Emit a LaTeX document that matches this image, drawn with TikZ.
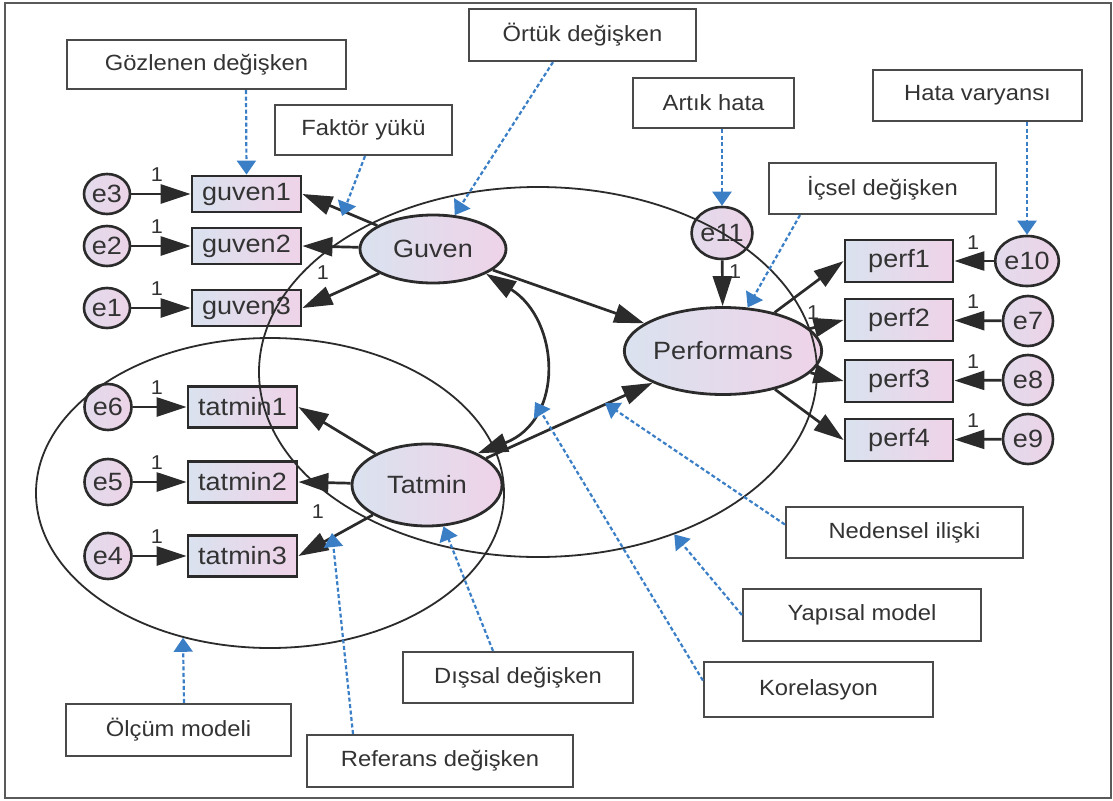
\documentclass[tikz,border=0pt]{standalone}
\usepackage{fontspec}
\setmainfont{Liberation Sans}[FakeStretch=1.08]
\usetikzlibrary{arrows.meta,shapes.geometric,calc}

\definecolor{ink}{HTML}{2B2B2B}
\definecolor{txt}{HTML}{333333}
\definecolor{boxline}{HTML}{4A4A4A}
\definecolor{frameline}{HTML}{5A5A5A}
\definecolor{callblue}{HTML}{3A7EC6}
\definecolor{fillL}{HTML}{DAE2EF}
\definecolor{fillR}{HTML}{EFD3E8}
\definecolor{errL}{HTML}{E2DBEC}
\definecolor{errR}{HTML}{EDD3E7}

\begin{document}
\begin{tikzpicture}[x=1pt,y=-1pt,
  lbl/.style={font=\fontsize{25}{28}\selectfont, text=txt},
  obs/.style={rectangle, draw=ink, line width=2.8pt, left color=fillL, right color=fillR,
    minimum width=109pt, inner sep=0pt, lbl},
  lat/.style={ellipse, draw=ink, line width=2.8pt, left color=fillL, right color=fillR,
    inner sep=0pt, lbl},
  err/.style={ellipse, draw=ink, line width=2.6pt, left color=errL, right color=errR,
    inner sep=0pt, lbl},
  bigell/.style={ellipse, draw=ink, line width=1.8pt, inner sep=0pt},
  one/.style={font=\fontsize{20}{22}\selectfont, text=txt, inner sep=0pt},
  reg/.style={draw=ink, line width=2.7pt, -{Triangle[length=30pt,width=19pt]}},
  cov/.style={draw=ink, line width=2.7pt, {Triangle[length=30pt,width=19pt]}-{Triangle[length=30pt,width=19pt]}},
  callout/.style={rectangle, draw=boxline, line width=2.2pt, fill=white, inner sep=0pt,
    font=\fontsize{22}{26}\selectfont, text=txt},
  callarrow/.style={draw=callblue, line width=2.2pt, dash pattern=on 4pt off 2.5pt,
    -{Triangle[length=14pt,width=19pt]}},
]
\useasboundingbox (0,0) rectangle (1113,800);
\fill[white] (0,0) rectangle (1113,800);
\draw[frameline, line width=2.5pt] (5,3) rectangle (1111,798);

% ---- measurement part: Guven ----
\node[err, minimum width=46pt, minimum height=40pt] (e3) at (107,194) {e3};
\node[err, minimum width=46pt, minimum height=40pt] (e2) at (107,246) {e2};
\node[err, minimum width=46pt, minimum height=40pt] (e1) at (107,308) {e1};
\node[obs, minimum height=36pt] (guven1) at (246.5,194) {guven1};
\node[obs, minimum height=36pt] (guven2) at (246.5,246) {guven2};
\node[obs, minimum height=36pt] (guven3) at (246.5,308) {guven3};

% ---- measurement part: Tatmin ----
\node[err, minimum width=47pt, minimum height=46pt] (e6) at (108,407) {e6};
\node[err, minimum width=47pt, minimum height=46pt] (e5) at (108,482) {e5};
\node[err, minimum width=47pt, minimum height=46pt] (e4) at (108,556) {e4};
\node[obs, minimum height=41pt] (tatmin1) at (242.5,407) {tatmin1};
\node[obs, minimum height=41pt] (tatmin2) at (242.5,482) {tatmin2};
\node[obs, minimum height=41pt] (tatmin3) at (242.5,556) {tatmin3};

% ---- latent variables ----
\node[lat, minimum width=146pt, minimum height=68pt] (Guven) at (433,249) {Guven};
\node[lat, minimum width=150pt, minimum height=82pt] (Tatmin) at (427,485) {Tatmin};
\node[lat, minimum width=160pt, minimum height=87pt] (Performans) at (723,351) {Performans};
\node[err, minimum width=56pt, minimum height=52pt] (e11) at (722,233) {e11};

% ---- measurement part: Performans ----
\node[obs, minimum width=108pt, minimum height=42pt] (perf1) at (899,261) {perf1};
\node[obs, minimum width=108pt, minimum height=42pt] (perf2) at (899,320) {perf2};
\node[obs, minimum width=108pt, minimum height=42pt] (perf3) at (899,381) {perf3};
\node[obs, minimum width=108pt, minimum height=42pt] (perf4) at (899,440) {perf4};
\node[err, minimum width=50pt, minimum height=50pt] (e10) at (1027,261) {e10};
\node[err, minimum width=50pt, minimum height=50pt] (e7) at (1028,321) {e7};
\node[err, minimum width=50pt, minimum height=50pt] (e8) at (1028,380) {e8};
\node[err, minimum width=50pt, minimum height=50pt] (e9) at (1028,439) {e9};

% ---- error terms into indicators ----
\draw[reg] (e3) -- (guven1);
\draw[reg] (e2) -- (guven2);
\draw[reg] (e1) -- (guven3);
\draw[reg] (e6) -- (tatmin1);
\draw[reg] (e5) -- (tatmin2);
\draw[reg] (e4) -- (tatmin3);
\draw[reg] (e10) -- (perf1);
\draw[reg] (e7) -- (perf2);
\draw[reg] (e8) -- (perf3);
\draw[reg] (e9) -- (perf4);

% ---- factor loadings ----
\draw[reg] (Guven) -- (guven1.east);
\draw[reg] (Guven) -- (guven2.east);
\draw[reg] (Guven) -- (guven3.east);
\draw[reg] (Tatmin) -- (tatmin1.east);
\draw[reg] (Tatmin) -- (tatmin2.east);
\draw[reg] (Tatmin) -- (tatmin3.east);
\draw[reg] (Performans) -- (perf1.west);
\draw[reg] (Performans) -- (perf2.west);
\draw[reg] (Performans) -- (perf3.west);
\draw[reg] (Performans) -- (perf4.west);

% ---- structural paths ----
\draw[reg] (Guven) -- (Performans);
\draw[reg] (Tatmin) -- (Performans);
\draw[reg] (e11) -- (Performans);
\draw[cov] (Guven.-25) .. controls (560,320) and (565,420) .. (Tatmin.32);

% ---- fixed loadings ----
\foreach \yy/\nm in {175/a,227/b,289/c,388/d,463/e,537/f}
  \node[one] (one\nm) at (157,\yy) {1};
\foreach \yy/\nm in {243/g,302/h,362/i,421/j}
  \node[one] (one\nm) at (973,\yy) {1};
\node[one] (onek) at (323,273) {1};
\node[one] (onel) at (318,512) {1};
\node[one] (onem) at (735,272) {1};
\node[one] (onen) at (813,313) {1};

% ---- model outlines ----
\node[bigell, minimum width=468pt, minimum height=310pt] (mmodel) at (270,493) {};
\node[bigell, minimum width=558pt, minimum height=370pt] (smodel) at (538,372) {};

% ---- callout labels ----
\node[callout, minimum width=279pt, minimum height=49pt] (goz) at (206.5,64.5) {Gözlenen değişken};
\node[callout, minimum width=177pt, minimum height=50pt] (fyk) at (363.5,130) {Faktör yükü};
\node[callout, minimum width=227pt, minimum height=52pt] (ortuk) at (582.5,35) {Örtük değişken};
\node[callout, minimum width=161pt, minimum height=50pt] (artik) at (713.5,103) {Artık hata};
\node[callout, minimum width=209pt, minimum height=51pt] (hata) at (977.5,95.5) {Hata varyansı};
\node[callout, minimum width=227pt, minimum height=51pt] (icsel) at (882.5,188.5) {İçsel değişken};
\node[callout, minimum width=237pt, minimum height=51pt] (ned) at (904.5,532.5) {Nedensel ilişki};
\node[callout, minimum width=238pt, minimum height=52pt] (yap) at (862,615) {Yapısal model};
\node[callout, minimum width=229pt, minimum height=55pt] (kor) at (818.5,689.5) {Korelasyon};
\node[callout, minimum width=230pt, minimum height=51pt] (dis) at (518,677.5) {Dışsal değişken};
\node[callout, minimum width=266pt, minimum height=52pt] (ref) at (440,761) {Referans değişken};
\node[callout, minimum width=225pt, minimum height=52pt] (olc) at (178.5,730) {Ölçüm modeli};

% ---- callout pointers ----
\coordinate (fyTip) at (342,216);
\coordinate (nedTip) at (605,403);
\coordinate (korTip) at (535,402);
\coordinate (refTip) at (332,533);
\draw[callarrow] ([xshift=39.5pt]goz.south) -- (guven1.north);
\draw[callarrow] ([xshift=1.5pt]fyk.south) -- (fyTip);
\draw[callarrow] ([xshift=-29.5pt]ortuk.south) -- (Guven);
\draw[callarrow] ([xshift=8.5pt]artik.south) -- (e11.north);
\draw[callarrow] ([xshift=49.5pt]hata.south) -- (e10.north);
\draw[callarrow] ([xshift=-82.5pt]icsel.south) -- (Performans);
\draw[callarrow] ([yshift=8pt]ned.west) -- (nedTip);
\draw[callarrow] (yap.west) -- (smodel);
\draw[callarrow] ([yshift=9pt]kor.west) -- (korTip);
\draw[callarrow] ([xshift=-25pt]dis.north) -- (Tatmin);
\draw[callarrow] ([xshift=-87pt]ref.north) -- (refTip);
\draw[callarrow] ([xshift=5.5pt]olc.north) -- (mmodel.239.2);
\end{tikzpicture}
\end{document}
